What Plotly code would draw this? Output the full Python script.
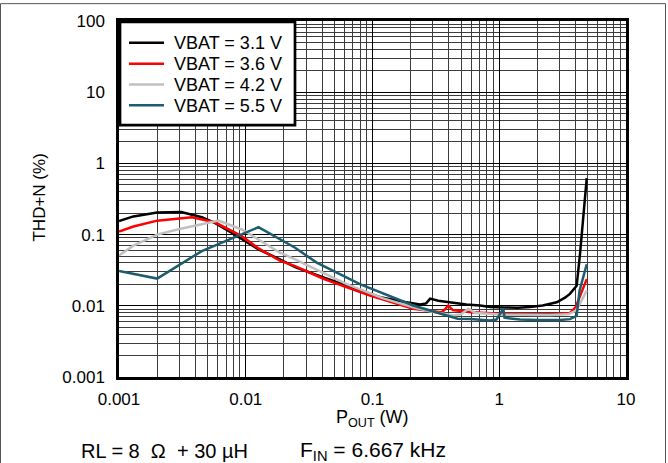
import plotly.graph_objects as go

# ---- data ----
x_31 = [0.001, 0.0013, 0.002, 0.0031, 0.0045, 0.0057, 0.0082, 0.0126, 0.0186, 0.0245, 0.041, 0.07, 0.115,
        0.18, 0.237, 0.265, 0.285, 0.33, 0.434, 0.55, 0.705, 0.85, 1.1, 1.4, 1.75, 2.2, 2.84, 3.3, 3.61,
        4.08, 4.34, 4.6, 4.9]
y_31 = [0.155, 0.18, 0.205, 0.207, 0.175, 0.146, 0.1, 0.062, 0.045, 0.035, 0.025, 0.018, 0.0132,
        0.0113, 0.0104, 0.0108, 0.0126, 0.0118, 0.0111, 0.0104, 0.0101, 0.0096, 0.0095, 0.0094, 0.0096,
        0.0101, 0.0112, 0.013, 0.0147, 0.0191, 0.054, 0.18, 0.62]

x_36 = [0.001, 0.0013, 0.002, 0.0028, 0.00375, 0.0057, 0.0093, 0.0126, 0.0186, 0.0245, 0.041, 0.0955, 0.15,
        0.21, 0.3, 0.35, 0.37, 0.396, 0.43, 0.49, 0.6, 0.8, 1.08, 1.5, 2.0, 2.8, 3.6, 4.0, 4.2, 4.5, 4.9]
y_36 = [0.11, 0.13, 0.157, 0.168, 0.175, 0.149, 0.095, 0.064, 0.043, 0.036, 0.024, 0.0139, 0.011,
        0.0091, 0.0084, 0.0081, 0.0088, 0.0101, 0.0087, 0.0084, 0.0081, 0.0079, 0.0077, 0.0077, 0.0076,
        0.0077, 0.0079, 0.0095, 0.0118, 0.016, 0.0237]

x_42 = [0.001, 0.0013, 0.002, 0.003, 0.0045, 0.0061, 0.0093, 0.0126, 0.0186, 0.0245, 0.0626, 0.12, 0.21,
        0.3, 0.434, 0.5, 0.57, 0.65, 0.8, 1.1, 1.6, 2.5, 3.5, 4.0, 4.3, 4.6, 4.9]
y_42 = [0.051, 0.07, 0.1, 0.12, 0.14, 0.157, 0.118, 0.085, 0.056, 0.045, 0.0202, 0.0128, 0.0095,
        0.0082, 0.0073, 0.0076, 0.0091, 0.0079, 0.0077, 0.0075, 0.0075, 0.0074, 0.0076, 0.0085, 0.0105,
        0.0131, 0.0163]

x_55 = [0.001, 0.002, 0.0045, 0.0126, 0.0245, 0.0363, 0.0796, 0.21, 0.385, 0.47, 0.588, 0.705, 0.845,
        0.95, 1.077, 1.1, 1.46, 2.0, 3.0, 3.61, 4.08, 4.3, 4.6, 4.9]
y_55 = [0.0309, 0.0241, 0.0587, 0.127, 0.0653, 0.0404, 0.0202, 0.0101, 0.0073, 0.0066, 0.0065, 0.0063,
        0.0062, 0.0064, 0.0091, 0.0068, 0.0064, 0.0063, 0.0063, 0.0065, 0.0072, 0.0163, 0.026, 0.0383]

series_names = ["VBAT = 3.1 V", "VBAT = 3.6 V", "VBAT = 4.2 V", "VBAT = 5.5 V"]
series_colors = ["#000000", "#ff0000", "#c0c0c0", "#1d5c6c"]

x_tick_vals = [0.001, 0.01, 0.1, 1, 10]
x_tick_text = ["0.001", "0.01", "0.1", "1", "10"]
y_tick_vals = [0.001, 0.01, 0.1, 1, 10, 100]
y_tick_text = ["0.001", "0.01", "0.1", "1", "10", "100"]

FONT = "Liberation Sans, Arial, Helvetica, sans-serif"

# plot-area geometry in pixels (for paper-coordinate conversions)
L, R, T, B = 119, 626, 18, 377
W_PX, H_PX = R - L, B - T


def px(xp):
    return (xp - L) / W_PX


def py(yp):
    return (B - yp) / H_PX


fig = go.Figure()
for xs, ys, name, col in zip([x_31, x_36, x_42, x_55], [y_31, y_36, y_42, y_55],
                             series_names, series_colors):
    fig.add_trace(go.Scatter(x=xs, y=ys, mode="lines", name=name, showlegend=False,
                             line=dict(color=col, width=2.5)))

axis_common = dict(
    type="log",
    showgrid=True, gridcolor="#000000", gridwidth=1,
    minor=dict(showgrid=True, gridcolor="#3c3c3c", gridwidth=1, dtick="D1", ticks=""),
    showline=True, linecolor="#000000", linewidth=2.5, mirror=True,
    ticks="", zeroline=False,
    tickfont=dict(family=FONT, size=17, color="#000000"),
)

fig.update_layout(
    width=668, height=463,
    margin=dict(l=L, r=668 - R, t=T, b=463 - B),
    paper_bgcolor="white", plot_bgcolor="white",
    font=dict(family=FONT, size=17, color="#000000"),
    xaxis=dict(axis_common, range=[-3, 1], tickvals=x_tick_vals, ticktext=x_tick_text,
               ticklabelstandoff=5),
    yaxis=dict(axis_common, range=[-3, 2], tickvals=y_tick_vals, ticktext=y_tick_text,
               ticklabelstandoff=8),
    showlegend=False,
)

annotations = [
    dict(text="P<sub>OUT</sub> (W)", x=0.5, y=py(419), xref="paper", yref="paper",
         showarrow=False, xanchor="center", yanchor="middle",
         font=dict(family=FONT, size=18, color="#000000")),
    dict(text="THD+N (%)", x=px(40), y=py(196), xref="paper", yref="paper",
         showarrow=False, xanchor="center", yanchor="middle", textangle=-90,
         font=dict(family=FONT, size=17, color="#000000")),
    dict(text="RL = 8\u00a0\u00a0\u03a9\u00a0\u00a0+ 30 \u00b5H", x=px(79), y=py(452),
         xref="paper", yref="paper", showarrow=False, xanchor="left", yanchor="middle",
         font=dict(family=FONT, size=20, color="#000000")),
    dict(text="F<sub>IN</sub> = 6.667 kHz", x=px(298), y=py(452),
         xref="paper", yref="paper", showarrow=False, xanchor="left", yanchor="middle",
         font=dict(family=FONT, size=21, color="#000000")),
]

# legend box drawn in paper coordinates
shapes = [
    dict(type="rect", xref="paper", yref="paper",
         x0=px(120), x1=px(295), y0=py(123), y1=py(19),
         line=dict(color="#000000", width=2.7), fillcolor="white", layer="above"),
]
legend_rows = [40, 61, 82, 103]
for row_y, name, col in zip(legend_rows, series_names, series_colors):
    shapes.append(dict(type="line", xref="paper", yref="paper",
                       x0=px(129), x1=px(164), y0=py(row_y), y1=py(row_y),
                       line=dict(color=col, width=2.5), layer="above"))
    annotations.append(dict(text=name, x=px(172), y=py(row_y + 0.5), xref="paper", yref="paper",
                            showarrow=False, xanchor="left", yanchor="middle",
                            font=dict(family=FONT, size=18, color="#000000")))

# thin grey frame around the whole picture
shapes.append(dict(type="rect", xref="paper", yref="paper",
                   x0=px(0.5), x1=px(665.5), y0=py(470), y1=py(0.5),
                   line=dict(color="#555555", width=1), fillcolor="rgba(0,0,0,0)", layer="below"))

fig.update_layout(annotations=annotations, shapes=shapes)

fig.write_html("out.html")
